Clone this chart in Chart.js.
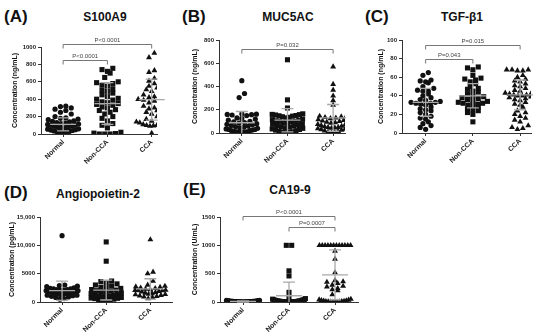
<!DOCTYPE html>
<html>
<head>
<meta charset="utf-8">
<script src="https://cdn.jsdelivr.net/npm/chart.js@4"></script>
<style>
  body { margin: 0; background: #fff; }
  #wrap { position: relative; width: 550px; height: 335px; font-family: Arial, "Liberation Sans", sans-serif; color: #111; }
  canvas { position: absolute; }
  .tag { position: absolute; font-weight: bold; font-size: 17px; line-height: 20px; }
  .ttl { position: absolute; font-weight: bold; font-size: 12px; line-height: 14px; transform: translateX(-50%); white-space: nowrap; }
</style>
</head>
<body>
<div id="wrap">
  <div class="tag" style="left:4px;top:7px">(A)</div>
  <div class="ttl" style="left:105px;top:10px">S100A9</div>
  <div class="tag" style="left:182px;top:7px">(B)</div>
  <div class="ttl" style="left:288px;top:10px">MUC5AC</div>
  <div class="tag" style="left:365px;top:7px">(C)</div>
  <div class="ttl" style="left:462px;top:10px">TGF-β1</div>
  <div class="tag" style="left:4px;top:183px">(D)</div>
  <div class="ttl" style="left:98px;top:187px">Angiopoietin-2</div>
  <div class="tag" style="left:183px;top:180px">(E)</div>
  <div class="ttl" style="left:290px;top:183px">CA19-9</div>
  <canvas id="chartA" width="175" height="137" style="left:0;top:28px"></canvas>
  <canvas id="chartB" width="175" height="137" style="left:180px;top:28px"></canvas>
  <canvas id="chartC" width="188" height="137" style="left:362px;top:28px"></canvas>
  <canvas id="chartD" width="180" height="135" style="left:0;top:200px"></canvas>
  <canvas id="chartE" width="185" height="135" style="left:180px;top:200px"></canvas>
</div>
<script>
const groups = ['Normal', 'Non-CCA', 'CCA'];

// S100A9 (ng/mL)
const s100a9Normal = [320, 315, 300, 285, 270, 250, 230, 200, 185, 180, 170, 165, 150, 145, 140, 130, 125, 120, 115, 110, 105, 100, 95, 90, 85, 80, 75, 70, 65, 60, 55, 50, 45, 40, 35, 30, 25, 20, 15, 10];
const s100a9NonCCA = [755, 740, 720, 700, 650, 600, 590, 580, 560, 550, 520, 500, 490, 470, 450, 430, 410, 400, 390, 370, 360, 350, 340, 330, 310, 300, 280, 270, 250, 230, 200, 180, 150, 120, 100, 70, 20, 10, 5, 0, 0, 0];
const s100a9CCA = [930, 880, 730, 710, 640, 610, 580, 550, 530, 510, 490, 470, 450, 430, 420, 410, 400, 400, 390, 380, 360, 340, 320, 300, 290, 270, 250, 230, 200, 170, 150, 140, 140, 130, 130, 120, 110, 100, 100, 95, 90, 10];
const s100a9Means = [110, 350, 395];
const s100a9Sd = [75, 240, 235];
const s100a9Ticks = [0, 200, 400, 600, 800, 1000];
const s100a9TickLabels = ['0', '200', '400', '600', '800', '1000'];
const s100a9Brackets = [{ from: 0, to: 1, y: 850, label: 'P<0.0001' }, { from: 0, to: 2, y: 1030, label: 'P<0.0001' }];

// MUC5AC (ng/mL)
const muc5acNormal = [450, 340, 305, 165, 162, 160, 158, 155, 150, 130, 125, 120, 110, 100, 95, 90, 85, 80, 75, 70, 65, 60, 55, 50, 45, 40, 35, 30, 30, 25, 20, 20, 15, 10, 10, 8, 5, 5];
const muc5acNonCCA = [630, 285, 215, 165, 160, 158, 155, 150, 148, 145, 140, 135, 130, 120, 115, 110, 105, 100, 100, 95, 90, 85, 80, 75, 70, 65, 60, 55, 50, 45, 40, 35, 30, 25, 20, 15, 10, 8, 5, 3];
const muc5acCCA = [570, 420, 370, 320, 280, 240, 150, 145, 140, 135, 130, 125, 120, 115, 110, 105, 100, 95, 90, 85, 80, 75, 70, 65, 60, 55, 50, 48, 45, 42, 40, 38, 35, 30, 25, 20, 15, 10, 5, 2];
const muc5acMeans = [88, 110, 130];
const muc5acSd = [97, 100, 115];
const muc5acTicks = [0, 200, 400, 600, 800];
const muc5acTickLabels = ['0', '200', '400', '600', '800'];
const muc5acBrackets = [{ from: 0, to: 2, y: 722, label: 'P=0.032' }];

// TGF-β1 (ng/mL)
const tgfNormal = [65, 62, 57, 56, 55, 54, 50, 48, 46, 45, 45, 42, 40, 38, 36, 35, 34, 33, 33, 32, 32, 31, 30, 28, 26, 25, 24, 22, 20, 18, 16, 15, 12, 10, 8, 6, 4];
const tgfNonCCA = [71, 70, 68, 62, 59, 58, 57, 55, 53, 50, 48, 47, 45, 44, 42, 40, 39, 38, 37, 36, 35, 34, 33, 32, 32, 31, 30, 30, 28, 26, 25, 24, 22, 20, 12];
const tgfCCA = [68, 68, 68, 68, 67, 67, 62, 60, 58, 56, 55, 53, 51, 50, 48, 46, 45, 44, 43, 42, 42, 41, 41, 40, 40, 39, 38, 37, 36, 35, 33, 31, 30, 28, 24, 22, 20, 18, 16, 14, 12, 8, 6, 5, 4];
const tgfMeans = [33, 40, 41];
const tgfSd = [15, 13, 16];
const tgfTicks = [0, 20, 40, 60, 80, 100];
const tgfTickLabels = ['0', '20', '40', '60', '80', '100'];
const tgfBrackets = [{ from: 0, to: 1, y: 80, label: 'P=0.043' }, { from: 0, to: 2, y: 94.5, label: 'P=0.015' }];

// Angiopoietin-2 (pg/mL)
const angNormal = [11700, 3000, 2900, 2800, 2700, 2500, 2400, 2300, 2300, 2200, 2200, 2100, 2100, 2000, 2000, 1950, 1900, 1850, 1800, 1800, 1700, 1650, 1600, 1600, 1500, 1500, 1400, 1400, 1300, 1200, 1200, 1100, 1000, 900, 800, 600, 500];
const angNonCCA = [10600, 7200, 3700, 3600, 3300, 3200, 3000, 2800, 2600, 2500, 2400, 2200, 2100, 2000, 1900, 1800, 1700, 1600, 1500, 1400, 1300, 1200, 1100, 1000, 950, 900, 800, 700, 650, 600, 500, 400, 300, 200, 100];
const angCCA = [11000, 5300, 5000, 3700, 3000, 2800, 2700, 2600, 2500, 2400, 2300, 2200, 2100, 2050, 2000, 2000, 1900, 1800, 1700, 1600, 1500, 1400, 1350, 1300, 1200, 1100, 1000, 900, 800, 600];
const angMeans = [2000, 2100, 2300];
const angSd = [1700, 1750, 1800];
const angTicks = [0, 5000, 10000, 15000];
const angTickLabels = ['0', '5000', '10,000', '15,000'];
const angBrackets = [];

// CA19-9 (U/mL)
const ca199Normal = [30, 28, 25, 22, 20, 20, 18, 15, 15, 14, 12, 12, 10, 10, 10, 10, 9, 8, 8, 7, 6, 5, 5, 5, 4, 4, 3, 3, 2, 2, 2, 1, 1, 1, 0, 0];
const ca199NonCCA = [1000, 1000, 550, 460, 170, 80, 60, 50, 45, 40, 35, 30, 30, 25, 20, 20, 18, 15, 15, 12, 10, 10, 8, 8, 5, 5, 5, 4, 3, 2, 2, 1, 1, 0, 0];
const ca199CCA = [1000, 1000, 1000, 1000, 1000, 1000, 1000, 1000, 1000, 1000, 1000, 1000, 900, 760, 520, 380, 360, 350, 330, 300, 280, 270, 240, 220, 200, 130, 50, 40, 35, 30, 25, 20, 15, 12, 10, 8, 6, 5, 3, 2, 1];
const ca199Means = [10, 110, 480];
const ca199Sd = [10, 240, 440];
const ca199Ticks = [0, 500, 1000, 1500];
const ca199TickLabels = ['0', '500', '1000', '1500'];
const ca199Brackets = [{ from: 0, to: 2, y: 1515, label: 'P<0.0001' }, { from: 1, to: 2, y: 1325, label: 'P=0.0007' }];

const pointStyles = ['circle', 'rect', 'triangle'];
const pointSizes = [2.6, 3.6, 3.4];
const INK = '#111';
const FONT = 'Arial, "Liberation Sans", sans-serif';

// GraphPad-style scatter: values that sit close together share a row
function swarm(vals, center, pxPerX, pxPerY) {
    const sorted = vals.slice().sort((a, b) => a - b);
    const rows = [];
    let row = [];
    sorted.forEach(v => {
        if (row.length && (v - row[0]) * pxPerY > 4.5) { rows.push(row); row = []; }
        row.push(v);
    });
    if (row.length) rows.push(row);

    const pts = [];
    rows.forEach(r => {
        const n = r.length;
        const step = Math.min(5.4, 34 / n);
        const slots = r.map((_, k) => (k - (n - 1) / 2) * step)
            .sort((a, b) => Math.abs(a) - Math.abs(b));
        r.forEach((v, k) => pts.push({ x: center + slots[k] / pxPerX, y: v }));
    });
    return pts;
}

const meanSdPlugin = {
    id: 'meanSd',
    afterDatasetsDraw(chart, args, o) {
        const { ctx, chartArea } = chart;
        const x = chart.scales.x, y = chart.scales.y;
        ctx.save();
        ctx.strokeStyle = '#a9a9a9';
        ctx.lineWidth = 1.3;
        o.means.forEach((m, i) => {
            const cx = x.getPixelForValue(i);
            const ym = y.getPixelForValue(m);
            const yt = y.getPixelForValue(m + o.sds[i]);
            const yb = y.getPixelForValue(m - o.sds[i]);
            const ybc = Math.min(yb, chartArea.bottom);
            ctx.beginPath();
            ctx.moveTo(cx - 13, ym); ctx.lineTo(cx + 13, ym);
            ctx.moveTo(cx, yt); ctx.lineTo(cx, ybc);
            ctx.moveTo(cx - 6, yt); ctx.lineTo(cx + 6, yt);
            if (yb <= chartArea.bottom) { ctx.moveTo(cx - 6, yb); ctx.lineTo(cx + 6, yb); }
            ctx.stroke();
        });
        ctx.restore();
    }
};

const bracketPlugin = {
    id: 'brackets',
    afterDraw(chart, args, o) {
        const { ctx } = chart;
        const x = chart.scales.x, y = chart.scales.y;
        ctx.save();
        ctx.strokeStyle = '#777';
        ctx.fillStyle = '#444';
        ctx.lineWidth = 1;
        ctx.font = '6px ' + FONT;
        ctx.textAlign = 'center';
        ctx.textBaseline = 'bottom';
        (o.items || []).forEach(b => {
            const x1 = x.getPixelForValue(b.from);
            const x2 = x.getPixelForValue(b.to);
            const yy = Math.round(y.getPixelForValue(b.y)) + 0.5;
            ctx.beginPath();
            ctx.moveTo(x1, yy + 4); ctx.lineTo(x1, yy); ctx.lineTo(x2, yy); ctx.lineTo(x2, yy + 4);
            ctx.stroke();
            ctx.fillText(b.label, (x1 + x2) / 2, yy - 1.5);
        });
        ctx.restore();
    }
};

function makePanel(id, p) {
    const canvas = document.getElementById(id);
    const plotW = canvas.width - p.yWidth - p.padRight;
    const plotH = canvas.height - p.padTop - p.xHeight;
    const pxPerX = plotW / (p.xMax + 0.5);
    const pxPerY = plotH / p.yMax;

    const datasets = p.series.map((vals, i) => ({
        data: swarm(vals, i, pxPerX, pxPerY),
        pointStyle: pointStyles[i],
        pointRadius: pointSizes[i],
        pointHoverRadius: pointSizes[i],
        backgroundColor: INK,
        borderColor: INK,
        borderWidth: 0
    }));

    new Chart(canvas, {
        type: 'scatter',
        data: { datasets },
        options: {
            responsive: false,
            animation: false,
            devicePixelRatio: 1,
            layout: { padding: { top: p.padTop, right: p.padRight, left: 0, bottom: 0 } },
            plugins: {
                legend: { display: false },
                tooltip: { enabled: false },
                meanSd: { means: p.means, sds: p.sds },
                brackets: { items: p.brackets }
            },
            scales: {
                x: {
                    type: 'linear',
                    min: -0.5,
                    max: p.xMax,
                    afterBuildTicks: s => { s.ticks = groups.map((_, i) => ({ value: i })); },
                    ticks: {
                        callback: (v, i) => groups[i],
                        autoSkip: false,
                        minRotation: 45,
                        maxRotation: 45,
                        padding: 1,
                        color: '#222',
                        font: { size: 7, weight: 'bold', family: FONT }
                    },
                    grid: { drawOnChartArea: false, tickLength: 3, color: '#333' },
                    border: { color: '#333', width: 1 },
                    afterFit: s => { s.height = p.xHeight; s.paddingLeft = 0; s.paddingRight = 0; }
                },
                y: {
                    min: 0,
                    max: p.yMax,
                    afterBuildTicks: s => { s.ticks = p.ticks.map(v => ({ value: v })); },
                    ticks: {
                        callback: (v, i) => p.tickLabels[i],
                        padding: 2,
                        color: '#222',
                        font: { size: 6, weight: 'bold', family: FONT }
                    },
                    grid: { drawOnChartArea: false, tickLength: 3, color: '#333' },
                    border: { color: '#333', width: 1 },
                    title: {
                        display: true,
                        text: p.yTitle,
                        color: '#111',
                        padding: { top: p.titlePad, bottom: 0 },
                        font: { size: 7, weight: 'bold', family: FONT }
                    },
                    afterFit: s => { s.width = p.yWidth; s.paddingTop = 0; s.paddingBottom = 0; }
                }
            }
        },
        plugins: [meanSdPlugin, bracketPlugin]
    });
}

makePanel('chartA', {
    series: [s100a9Normal, s100a9NonCCA, s100a9CCA], means: s100a9Means, sds: s100a9Sd,
    ticks: s100a9Ticks, tickLabels: s100a9TickLabels, brackets: s100a9Brackets,
    yMax: 1000, xMax: 2.12, yTitle: 'Concentration (ng/mL)',
    yWidth: 41, padTop: 19, padRight: 18, xHeight: 31, titlePad: 11
});
makePanel('chartB', {
    series: [muc5acNormal, muc5acNonCCA, muc5acCCA], means: muc5acMeans, sds: muc5acSd,
    ticks: muc5acTicks, tickLabels: muc5acTickLabels, brackets: muc5acBrackets,
    yMax: 800, xMax: 2.26, yTitle: 'Concentration (ng/mL)',
    yWidth: 39, padTop: 12, padRight: 10, xHeight: 32, titlePad: 11
});
makePanel('chartC', {
    series: [tgfNormal, tgfNonCCA, tgfCCA], means: tgfMeans, sds: tgfSd,
    ticks: tgfTicks, tickLabels: tgfTickLabels, brackets: tgfBrackets,
    yMax: 100, xMax: 2.23, yTitle: 'Concentration (ng/mL)',
    yWidth: 40, padTop: 12, padRight: 19, xHeight: 32, titlePad: 15
});
makePanel('chartD', {
    series: [angNormal, angNonCCA, angCCA], means: angMeans, sds: angSd,
    ticks: angTicks, tickLabels: angTickLabels, brackets: angBrackets,
    yMax: 15000, xMax: 2.49, yTitle: 'Concentration (pg/mL)',
    yWidth: 40, padTop: 17, padRight: 8, xHeight: 33, titlePad: 8
});
makePanel('chartE', {
    series: [ca199Normal, ca199NonCCA, ca199CCA], means: ca199Means, sds: ca199Sd,
    ticks: ca199Ticks, tickLabels: ca199TickLabels, brackets: ca199Brackets,
    yMax: 1500, xMax: 2.5, yTitle: 'Concentration (U/mL)',
    yWidth: 40, padTop: 17, padRight: 7, xHeight: 33, titlePad: 11
});
</script>
</body>
</html>
